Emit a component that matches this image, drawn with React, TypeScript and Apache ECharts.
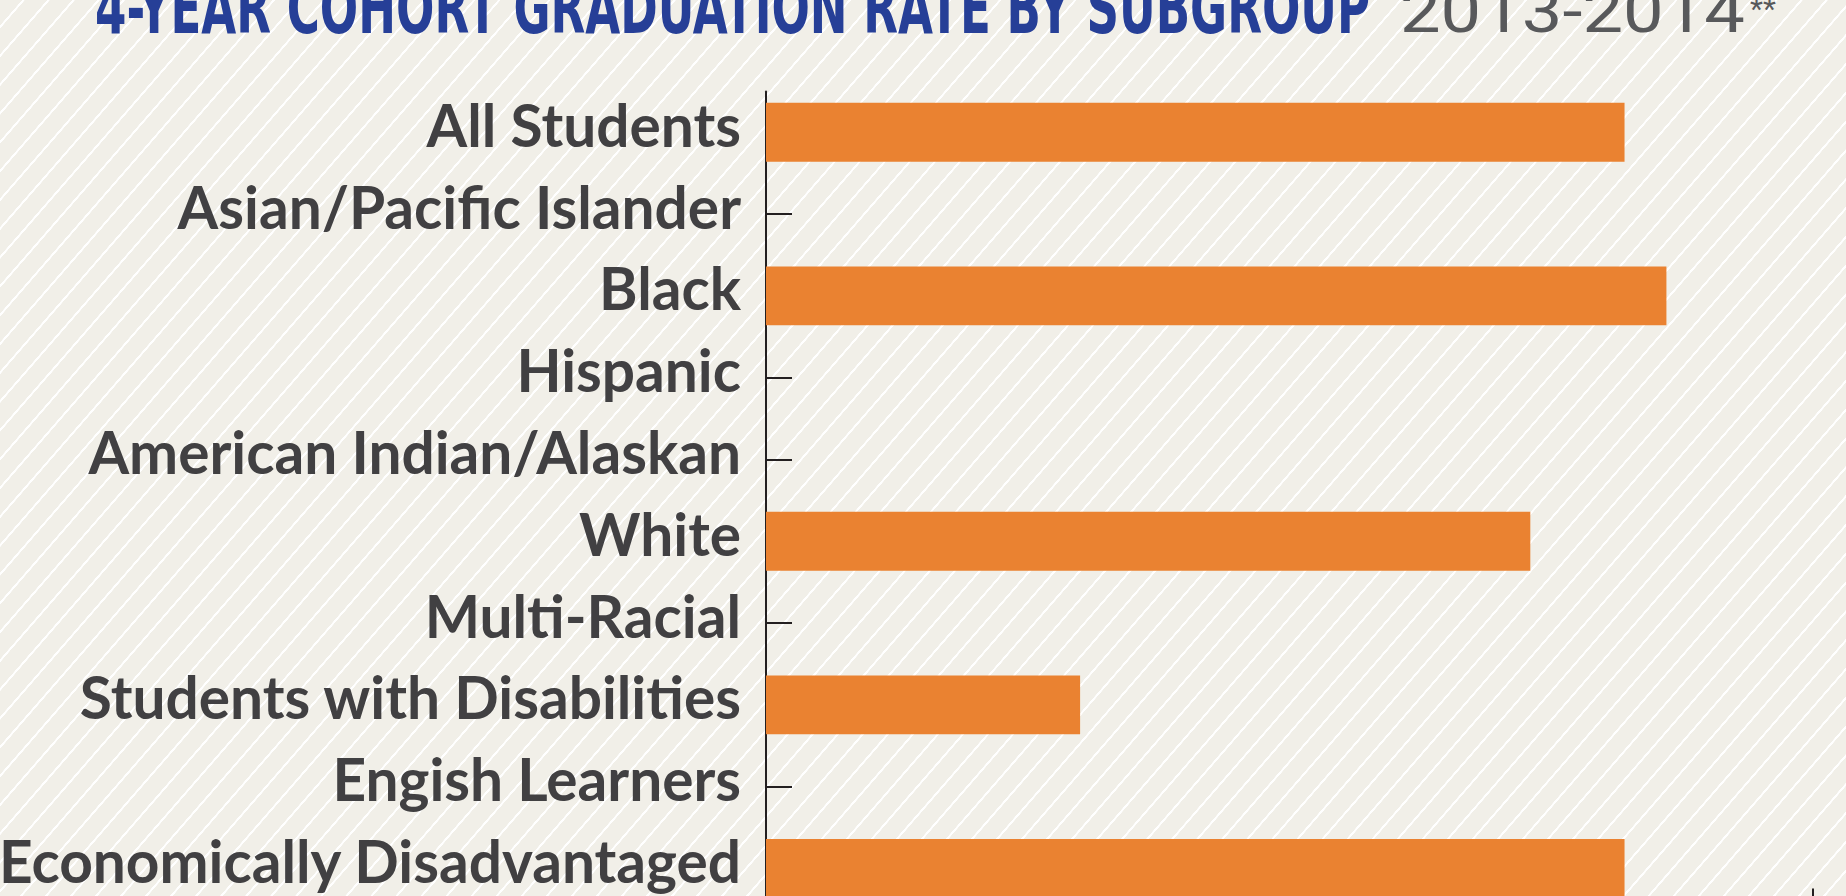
import React, { useEffect, useRef } from 'react';
import * as echarts from 'echarts';

const categories = [
  'All Students',
  'Asian/Pacific Islander',
  'Black',
  'Hispanic',
  'American Indian/Alaskan',
  'White',
  'Multi-Racial',
  'Students with Disabilities',
  'Engish Learners',
  'Economically Disadvantaged',
];
const rates: (number | null)[] = [82, null, 86, null, null, 73, null, 30, null, 82];
const xTicks = [0, 100];
const titleMain = '4-YEAR COHORT GRADUATION RATE BY SUBGROUP';
const titleYears = '2013-2014';
const titleNote = '**';

function measure(text: string, font: string): number {
  const c = document.createElement('canvas').getContext('2d');
  if (!c) return 1;
  c.font = font;
  return c.measureText(text).width || 1;
}

export default function App() {
  const ref = useRef<HTMLDivElement>(null);
  useEffect(() => {
    if (!ref.current) return;
    const chart = echarts.init(ref.current, undefined, { renderer: 'svg' });

    const blueSize = 71;
    const blueFont = `bold ${blueSize}px "DejaVu Sans Condensed"`;
    const blueScale = 1275 / measure(titleMain, blueFont);
    const graySize = 62;
    const grayFont = `400 ${graySize}px Roboto`;
    const grayScale = 345 / measure(titleYears, grayFont);

    const axisColor = '#231f20';

    chart.setOption({
      animation: false,
      backgroundColor: 'transparent',
      grid: {
        left: 766,
        top: 91.4,
        width: 1047,
        height: 818,
        containLabel: false,
        outerBoundsMode: 'none',
      },
      xAxis: {
        type: 'value',
        min: xTicks[0],
        max: xTicks[xTicks.length - 1],
        interval: xTicks[1] - xTicks[0],
        axisLine: { show: true, lineStyle: { color: axisColor, width: 2 } },
        axisTick: { show: true, inside: true, length: 21, lineStyle: { color: axisColor, width: 2 } },
        axisLabel: { show: false },
        splitLine: { show: false },
      },
      yAxis: {
        type: 'category',
        inverse: true,
        data: categories,
        axisLine: { show: true, lineStyle: { color: axisColor, width: 2 } },
        axisTick: {
          show: true,
          inside: true,
          length: 26,
          alignWithLabel: true,
          lineStyle: { color: axisColor, width: 2 },
        },
        axisLabel: {
          fontSize: 58.6,
          fontWeight: 'bold',
          fontFamily: 'Lato',
          color: '#414042',
          margin: 25,
          verticalAlign: 'bottom',
          lineHeight: 17,
        },
        splitLine: { show: false },
      },
      series: [
        {
          type: 'bar',
          data: rates,
          barCategoryGap: '28%',
          itemStyle: { color: '#ea8231' },
          z: 2,
        },
      ],
      graphic: [
        {
          type: 'text',
          x: 95,
          y: 32.5 - 0.346 * blueSize,
          scaleX: blueScale,
          scaleY: 1,
          style: {
            text: titleMain,
            font: blueFont,
            fill: '#263f97',
            textAlign: 'left',
            textVerticalAlign: 'middle',
          },
        },
        {
          type: 'text',
          x: 1400,
          y: 32.5 - 0.342 * graySize,
          scaleX: grayScale,
          scaleY: 1,
          style: {
            text: titleYears,
            font: grayFont,
            fill: '#58595b',
            textAlign: 'left',
            textVerticalAlign: 'middle',
          },
        },
        {
          type: 'text',
          x: 1750,
          y: 19 - 0.342 * 30,
          style: {
            text: titleNote,
            font: '400 30px Roboto',
            fill: '#58595b',
            textAlign: 'left',
            textVerticalAlign: 'middle',
          },
        },
      ],
    });
    return () => chart.dispose();
  }, []);

  return (
    <div
      ref={ref}
      style={{
        position: 'fixed',
        left: 0,
        top: 0,
        width: 1846,
        height: 896,
        backgroundColor: '#f1efe8',
        backgroundImage:
          'repeating-linear-gradient(131deg, #f1efe8 0px, #f1efe8 16.6px, #ffffff 16.9px, #ffffff 18.6px, #f1efe8 18.9px)',
      }}
    />
  );
}
